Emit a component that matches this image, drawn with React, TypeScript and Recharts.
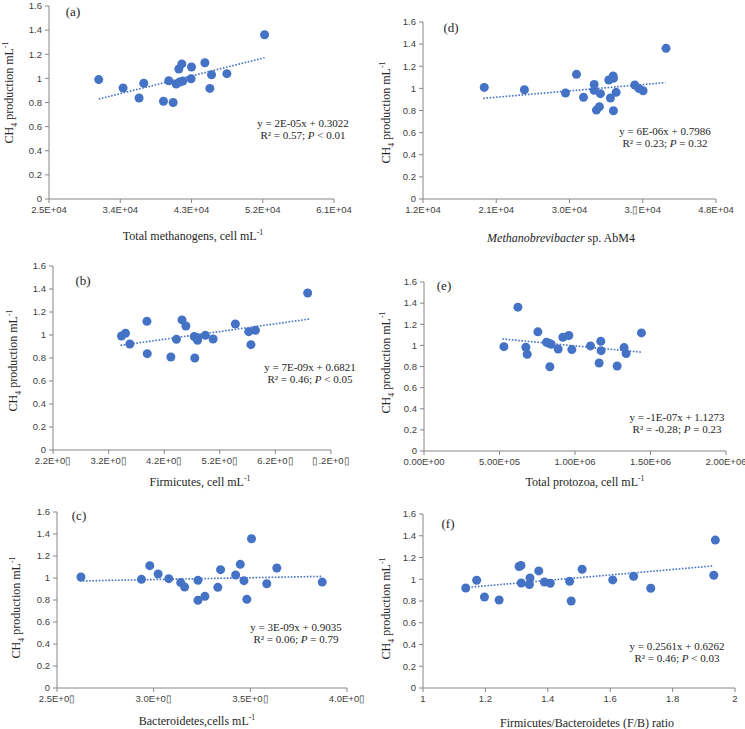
import React from "react";
import { ScatterChart, Scatter, XAxis, YAxis } from "recharts";

const BOX = "\u25AF";

// y axis (shared)
const Y_TICKS = [0, 0.2, 0.4, 0.6, 0.8, 1, 1.2, 1.4, 1.6];

// (a) total methanogens
const A_X = [31281, 34357, 36380, 36970, 39460, 40130, 40680, 41060, 41400, 41520, 41780, 41900, 42950, 43000, 44690, 45320, 45530, 47470, 52230];
const A_Y = [0.99, 0.92, 0.837, 0.96, 0.81, 0.98, 0.8, 0.953, 1.078, 0.97, 1.12, 0.978, 0.997, 1.094, 1.13, 0.917, 1.03, 1.039, 1.362];
const A_TREND_X = [31281, 52230];
const A_TREND_Y = [0.829, 1.171];
const A_TICKS = [25000, 34000, 43000, 52000, 61000];
const A_TICK_LABELS = ["2.5E+04", "3.4E+04", "4.3E+04", "5.2E+04", "6.1E+04"];

// (d) Methanobrevibacter sp. AbM4
const D_X = [19527, 24460, 29510, 30860, 31720, 33030, 33030, 33310, 33680, 33800, 34830, 35030, 35360, 35400, 35400, 35730, 38020, 38510, 39040, 41860];
const D_Y = [1.009, 0.988, 0.958, 1.127, 0.919, 1.036, 0.982, 0.804, 0.835, 0.952, 1.076, 0.913, 1.112, 1.091, 0.798, 0.964, 1.03, 1.0, 0.979, 1.362];
const D_TREND_X = [19400, 41780];
const D_TREND_Y = [0.91, 1.052];
const D_TICKS = [12000, 21000, 30000, 39000, 48000];
const D_TICK_LABELS = ["1.2E+04", "2.1E+04", "3.0E+04", "3." + BOX + "E+04", "4.8E+04"];

// (b) Firmicutes
const B_X = [3.432e9, 3.504e9, 3.582e9, 3.889e9, 3.895e9, 4.32e9, 4.42e9, 4.52e9, 4.59e9, 4.74e9, 4.75e9, 4.8e9, 4.8e9, 4.94e9, 5.08e9, 5.48e9, 5.72e9, 5.76e9, 5.84e9, 6.78e9];
const B_Y = [0.991, 1.015, 0.922, 1.119, 0.838, 0.809, 0.962, 1.131, 1.078, 0.986, 0.8, 0.977, 0.954, 0.997, 0.965, 1.096, 1.029, 0.916, 1.041, 1.365];
const B_TREND_X = [3.414e9, 6.816e9];
const B_TREND_Y = [0.91, 1.139];
const B_TICKS = [2.2e9, 3.2e9, 4.2e9, 5.2e9, 6.2e9, 7.2e9];
const B_TICK_LABELS = ["2.2E+0" + BOX, "3.2E+0" + BOX, "4.2E+0" + BOX, "5.2E+0" + BOX, "6.2E+0" + BOX, BOX + ".2E+0" + BOX];

// (e) total protozoa
const E_X = [529200, 621800, 674700, 683500, 754100, 811400, 826900, 842300, 833500, 888600, 919500, 959200, 979000, 1102500, 1159800, 1170900, 1173100, 1278900, 1325200, 1338400, 1440000];
const E_Y = [0.988, 1.362, 0.982, 0.916, 1.128, 1.03, 1.02, 1.011, 0.798, 0.966, 1.077, 1.093, 0.96, 0.995, 0.833, 1.039, 0.95, 0.805, 0.979, 0.922, 1.118];
const E_TREND_X = [518200, 1444000];
const E_TREND_Y = [1.061, 0.935];
const E_TICKS = [0, 500000, 1000000, 1500000, 2000000];
const E_TICK_LABELS = ["0.00E+00", "5.00E+05", "1.00E+06", "1.50E+06", "2.00E+06"];

// (c) Bacteroidetes
const C_X = [2.624e9, 2.937e9, 2.98e9, 3.023e9, 3.078e9, 3.14e9, 3.16e9, 3.229e9, 3.229e9, 3.265e9, 3.332e9, 3.346e9, 3.424e9, 3.448e9, 3.467e9, 3.482e9, 3.506e9, 3.585e9, 3.637e9, 3.872e9];
const C_Y = [1.009, 0.988, 1.112, 1.036, 0.994, 0.958, 0.918, 0.797, 0.979, 0.833, 0.915, 1.076, 1.027, 1.124, 0.976, 0.806, 1.357, 0.948, 1.091, 0.963];
const C_TREND_X = [2.617e9, 3.873e9];
const C_TREND_Y = [0.973, 1.015];
const C_TICKS = [2.5e9, 3.0e9, 3.5e9, 4.0e9];
const C_TICK_LABELS = ["2.5E+0" + BOX, "3.0E+0" + BOX, "3.5E+0" + BOX, "4.0E+0" + BOX];

// (f) F/B ratio
const F_X = [1.137, 1.172, 1.197, 1.244, 1.308, 1.314, 1.315, 1.341, 1.343, 1.371, 1.389, 1.408, 1.47, 1.475, 1.51, 1.608, 1.675, 1.73, 1.932, 1.937];
const F_Y = [0.92, 0.991, 0.837, 0.809, 1.117, 1.126, 0.966, 0.951, 1.012, 1.077, 0.975, 0.963, 0.982, 0.8, 1.092, 0.994, 1.028, 0.917, 1.037, 1.36];
const F_TREND_X = [1.135, 1.932];
const F_TREND_Y = [0.923, 1.123];
const F_TICKS = [1, 1.2, 1.4, 1.6, 1.8, 2];
const F_TICK_LABELS = ["1", "1.2", "1.4", "1.6", "1.8", "2"];

const BLUE = "#4472C4";
const AXIS = "#868686";
const SERIF = "'Liberation Serif', 'Times New Roman', serif";
const TICK_STYLE = { fontSize: 9.5, fill: "#404040", fontFamily: "'Liberation Sans', Arial, sans-serif" };

const Y_AXIS_W = 45;
const X_AXIS_H = 20;
const M_TOP = 10;
const M_RIGHT = 30;

function pts(xs: number[], ys: number[]) {
    return xs.map((x, i) => ({ x, y: ys[i] }));
}

const noShape = () => <g />;

function Panel({ box, xs, ys, tx, ty, ticks, tickLabels }: any) {
    const [left, top, right, bottom] = box;
    const w = right - left + Y_AXIS_W + M_RIGHT;
    const h = bottom - top + M_TOP + X_AXIS_H;
    return (
        <div style={{ position: "absolute", left: left - Y_AXIS_W, top: top - M_TOP }}>
            <ScatterChart width={w} height={h} margin={{ top: M_TOP, right: M_RIGHT, left: 0, bottom: 0 }}>
                <XAxis
                    type="number"
                    dataKey="x"
                    domain={[ticks[0], ticks[ticks.length - 1]]}
                    ticks={ticks}
                    tickFormatter={(v: number) => tickLabels[ticks.indexOf(v)] ?? ""}
                    height={X_AXIS_H}
                    stroke={AXIS}
                    tickSize={4}
                    tickMargin={3}
                    tick={TICK_STYLE}
                    interval={0}
                    allowDataOverflow
                />
                <YAxis
                    type="number"
                    dataKey="y"
                    domain={[0, 1.6]}
                    ticks={Y_TICKS}
                    width={Y_AXIS_W}
                    stroke={AXIS}
                    tickSize={4}
                    tickMargin={3}
                    tick={TICK_STYLE}
                    interval={0}
                />
                <Scatter
                    data={pts(tx, ty)}
                    line={{ stroke: BLUE, strokeWidth: 1.6, strokeDasharray: "1.6 1.6" }}
                    shape={noShape}
                    isAnimationActive={false}
                />
                <Scatter data={pts(xs, ys)} fill={BLUE} isAnimationActive={false}
                    shape={(p: any) => <circle cx={p.cx} cy={p.cy} r={4.5} fill={BLUE} />} />
            </ScatterChart>
        </div>
    );
}

function Txt({ x, y, children, size = 12, rotate = false, style = {} }: any) {
    return (
        <div
            style={{
                position: "absolute",
                left: x - 150,
                top: y - size * 0.6,
                width: 300,
                textAlign: "center",
                fontFamily: SERIF,
                fontSize: size,
                lineHeight: `${size * 1.1}px`,
                color: "#262626",
                whiteSpace: "nowrap",
                transform: rotate ? "rotate(-90deg)" : undefined,
                ...style,
            }}
        >
            {children}
        </div>
    );
}

const supStyle = { fontSize: "65%", verticalAlign: "super", lineHeight: 0 };
const subStyle = { fontSize: "70%", verticalAlign: "sub", lineHeight: 0 };

const YLabel = ({ x, y }: any) => (
    <Txt x={x} y={y} rotate>
        CH<span style={subStyle}>4</span> production mL<span style={supStyle}>-1</span>
    </Txt>
);

const Eq = ({ x, y, l1, r2, p }: any) => (
    <Txt x={x} y={y + 6} size={11}>
        {l1}
        <br />
        R² = {r2}; <i>P</i> {p}
    </Txt>
);

export default function App() {
    return (
        <div style={{ position: "absolute", left: 0, top: 0, width: 745, height: 729, overflow: "hidden", background: "#fff" }}>
            <Panel box={[49, 6, 334, 199]} xs={A_X} ys={A_Y} tx={A_TREND_X} ty={A_TREND_Y} ticks={A_TICKS} tickLabels={A_TICK_LABELS} />
            <Panel box={[423, 22, 716, 199]} xs={D_X} ys={D_Y} tx={D_TREND_X} ty={D_TREND_Y} ticks={D_TICKS} tickLabels={D_TICK_LABELS} />
            <Panel box={[53, 266, 331, 450]} xs={B_X} ys={B_Y} tx={B_TREND_X} ty={B_TREND_Y} ticks={B_TICKS} tickLabels={B_TICK_LABELS} />
            <Panel box={[424, 282, 726, 451]} xs={E_X} ys={E_Y} tx={E_TREND_X} ty={E_TREND_Y} ticks={E_TICKS} tickLabels={E_TICK_LABELS} />
            <Panel box={[57, 512, 347, 688]} xs={C_X} ys={C_Y} tx={C_TREND_X} ty={C_TREND_Y} ticks={C_TICKS} tickLabels={C_TICK_LABELS} />
            <Panel box={[423, 514, 735, 688]} xs={F_X} ys={F_Y} tx={F_TREND_X} ty={F_TREND_Y} ticks={F_TICKS} tickLabels={F_TICK_LABELS} />

            <YLabel x={10} y={93} />
            <YLabel x={387} y={113} />
            <YLabel x={14} y={361} />
            <YLabel x={387} y={363} />
            <YLabel x={17} y={608} />
            <YLabel x={387} y={609} />

            <Txt x={73} y={13} size={13}>(a)</Txt>
            <Txt x={451} y={29} size={13}>(d)</Txt>
            <Txt x={83} y={282} size={13}>(b)</Txt>
            <Txt x={444} y={287} size={13}>(e)</Txt>
            <Txt x={79} y={517} size={13}>(c)</Txt>
            <Txt x={448} y={525} size={13}>(f)</Txt>

            <Eq x={303} y={118} l1="y = 2E-05x + 0.3022" r2="0.57" p="< 0.01" />
            <Eq x={665} y={126} l1="y = 6E-06x + 0.7986" r2="0.23" p="= 0.32" />
            <Eq x={310} y={362} l1="y = 7E-09x + 0.6821" r2="0.46" p="< 0.05" />
            <Eq x={677} y={412} l1="y = -1E-07x + 1.1273" r2="-0.28" p="= 0.23" />
            <Eq x={296} y={622} l1="y = 3E-09x + 0.9035" r2="0.06" p="= 0.79" />
            <Eq x={677} y={641} l1="y = 0.2561x + 0.6262" r2="0.46" p="< 0.03" />

            <Txt x={193} y={237}>Total methanogens, cell mL<span style={supStyle}>-1</span></Txt>
            <Txt x={561} y={239}><i>Methanobrevibacter</i> sp. AbM4</Txt>
            <Txt x={200} y={483}>Firmicutes, cell mL<span style={supStyle}>-1</span></Txt>
            <Txt x={585} y={483}>Total protozoa, cell mL<span style={supStyle}>-1</span></Txt>
            <Txt x={197} y={722}>Bacteroidetes,cells mL<span style={supStyle}>-1</span></Txt>
            <Txt x={587} y={724}>Firmicutes/Bacteroidetes (F/B) ratio</Txt>
        </div>
    );
}
